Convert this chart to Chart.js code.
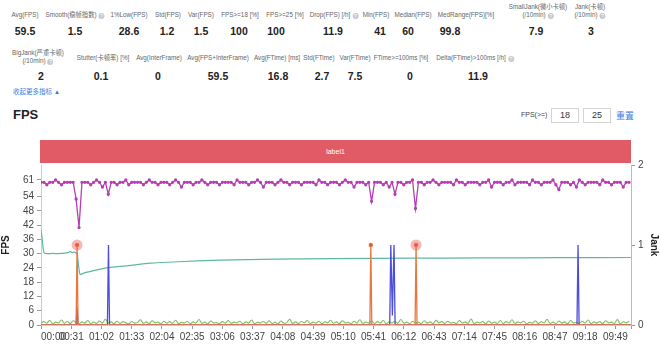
<!DOCTYPE html>
<html>
<head>
<meta charset="utf-8">
<script src="https://cdn.jsdelivr.net/npm/chart.js@4.4.0/dist/chart.umd.min.js"></script>
<style>
  body { margin: 0; width: 660px; height: 344px; overflow: hidden; background: #fff;
         font-family: "Liberation Sans", "Noto Sans CJK SC", sans-serif; position: relative; }
  .c { position: absolute; transform: translateX(-50%); text-align: center; white-space: nowrap; }
  .lab { font-size: 6.3px; line-height: 8px; color: #666; }
  .val { font-size: 10.5px; font-weight: bold; color: #222; line-height: 12px; }
  .q { display: inline-block; width: 6px; height: 6px; border-radius: 50%; background: #c4c8cf;
       color: #fff; font-size: 5px; line-height: 6px; text-align: center; vertical-align: -1px; margin-left: 2px; }
  .box { position: absolute; top: 108px; width: 26px; height: 13px; border: 1px solid #d4d4d4;
         font-size: 9px; line-height: 13px; text-align: center; color: #333; }
  #wrap { position: absolute; left: 0; top: 150px; width: 660px; height: 194px; }
</style>
</head>
<body>
<!-- row 1 -->
<div class="c lab" style="left:25px;top:11px">Avg(FPS)</div>
<div class="c lab" style="left:75px;top:11px">Smooth(稳帧指数)<span class="q">?</span></div>
<div class="c lab" style="left:129px;top:11px">1%Low(FPS)</div>
<div class="c lab" style="left:168px;top:11px">Std(FPS)</div>
<div class="c lab" style="left:201px;top:11px">Var(FPS)</div>
<div class="c lab" style="left:240px;top:11px">FPS&gt;=18 [%]</div>
<div class="c lab" style="left:285px;top:11px">FPS&gt;=25 [%]</div>
<div class="c lab" style="left:334px;top:11px">Drop(FPS) [/h]<span class="q">?</span></div>
<div class="c lab" style="left:376px;top:11px">Min(FPS)</div>
<div class="c lab" style="left:413px;top:11px">Median(FPS)</div>
<div class="c lab" style="left:466px;top:11px">MedRange(FPS)[%]</div>
<div class="c lab" style="left:538px;top:3px">SmallJank(微小卡顿)<br>(/10min)<span class="q">?</span></div>
<div class="c lab" style="left:590px;top:3px">Jank(卡顿)<br>(/10min)<span class="q">?</span></div>

<div class="c val" style="left:25px;top:25px">59.5</div>
<div class="c val" style="left:75px;top:25px">1.5</div>
<div class="c val" style="left:129px;top:25px">28.6</div>
<div class="c val" style="left:167px;top:25px">1.2</div>
<div class="c val" style="left:201px;top:25px">1.5</div>
<div class="c val" style="left:239px;top:25px">100</div>
<div class="c val" style="left:276px;top:25px">100</div>
<div class="c val" style="left:333px;top:25px">11.9</div>
<div class="c val" style="left:380px;top:25px">41</div>
<div class="c val" style="left:408px;top:25px">60</div>
<div class="c val" style="left:450px;top:25px">99.8</div>
<div class="c val" style="left:536px;top:25px">7.9</div>
<div class="c val" style="left:591px;top:25px">3</div>

<!-- row 2 -->
<div class="c lab" style="left:38px;top:49px">BigJank(严重卡顿)<br>(/10min)<span class="q">?</span></div>
<div class="c lab" style="left:103px;top:54px">Stutter(卡顿率) [%]</div>
<div class="c lab" style="left:159px;top:54px">Avg(InterFrame)</div>
<div class="c lab" style="left:218px;top:54px">Avg(FPS+InterFrame)</div>
<div class="c lab" style="left:277px;top:54px">Avg(FTime) [ms]</div>
<div class="c lab" style="left:319px;top:54px">Std(FTime)</div>
<div class="c lab" style="left:355px;top:54px">Var(FTime)</div>
<div class="c lab" style="left:401px;top:54px">FTime&gt;=100ms [%]</div>
<div class="c lab" style="left:475px;top:54px">Delta(FTime)&gt;100ms [/h]<span class="q">?</span></div>

<div class="c val" style="left:41px;top:70px">2</div>
<div class="c val" style="left:101px;top:70px">0.1</div>
<div class="c val" style="left:158px;top:70px">0</div>
<div class="c val" style="left:218px;top:70px">59.5</div>
<div class="c val" style="left:278px;top:70px">16.8</div>
<div class="c val" style="left:322px;top:70px">2.7</div>
<div class="c val" style="left:355px;top:70px">7.5</div>
<div class="c val" style="left:410px;top:70px">0</div>
<div class="c val" style="left:478px;top:70px">11.9</div>

<div style="position:absolute;left:13px;top:86px;font-size:6.5px;color:#3b7ddd">收起更多指标 ▲</div>

<!-- FPS header -->
<div style="position:absolute;left:13px;top:107px;font-size:13px;font-weight:bold;color:#222">FPS</div>
<div style="position:absolute;left:521px;top:111px;font-size:7px;color:#444">FPS(&gt;=)</div>
<div class="box" style="left:551px">18</div>
<div class="box" style="left:583px">25</div>
<div style="position:absolute;left:616px;top:109px;font-size:9px;color:#3b7ddd">重置</div>

<div style="position:absolute;left:40px;top:140px;width:591px;height:23px;background:#e05b66;color:#fff;font-size:7px;line-height:23px;text-align:center">label1</div>

<div id="wrap"><canvas id="chart"></canvas></div>

<script>
// time axis (seconds)
const totalSec = 605;
const sampleSec = 3;
const xTickSeconds = [0, 31, 62, 93, 124, 155, 186, 217, 248, 279, 310, 341, 372, 403, 434, 465, 496, 527, 558, 589, 605];
const xTickLabels = ['00:00', '00:31', '01:02', '01:33', '02:04', '02:35', '03:06', '03:37', '04:08', '04:39',
  '05:10', '05:41', '06:12', '06:43', '07:14', '07:45', '08:16', '08:47', '09:18', '09:49', ''];
const fpsTicks = [0, 6, 12, 18, 24, 30, 36, 42, 48, 54, 61];

// FPS, one value every 3 s
const fpsValues = [
  60, 60, 59, 60, 60, 61, 60, 59, 60, 60,
  60, 60, 53, 41, 60, 60, 60, 59, 60, 61,
  60, 58, 60, 55, 60, 60, 59, 60, 60, 61,
  59, 60, 60, 60, 60, 59, 60, 61, 60, 60,
  59, 60, 60, 60, 59, 60, 61, 60, 58, 60,
  60, 60, 59, 60, 60, 61, 60, 59, 60, 60,
  60, 59, 60, 60, 60, 60, 59, 61, 60, 60,
  60, 59, 60, 60, 61, 60, 58, 60, 60, 60,
  59, 60, 61, 60, 60, 59, 60, 60, 60, 59,
  60, 60, 60, 60, 59, 61, 60, 60, 59, 60,
  60, 60, 59, 60, 61, 60, 60, 58, 60, 60,
  60, 59, 60, 52, 60, 60, 60, 59, 60, 58,
  60, 55, 60, 60, 59, 60, 60, 61, 49, 60,
  60, 59, 60, 60, 61, 60, 59, 60, 60, 60,
  60, 59, 61, 60, 60, 59, 60, 60, 60, 60,
  59, 60, 60, 61, 58, 60, 60, 60, 59, 60,
  60, 61, 59, 60, 60, 60, 60, 59, 61, 60,
  60, 59, 60, 60, 60, 61, 59, 57, 60, 60,
  60, 59, 60, 58, 61, 60, 59, 60, 60, 60,
  60, 59, 61, 60, 60, 59, 60, 60, 60, 58,
  60, 60
];

// green low series, one value every 3 s
const interValues = [
  0.6, 1.4, 0.8, 1.9, 0.5, 1.2, 0.9, 2.1, 0.7, 1.5,
  0.6, 1.8, 1.0, 0.5, 1.3, 0.8, 1.9, 0.6, 1.2, 0.7,
  1.7, 0.8, 2.4, 0.9, 1.3, 0.6, 1.6, 0.7, 1.4, 0.9,
  0.5, 1.5, 0.8, 1.1, 2.2, 0.7, 1.3, 0.6, 1.8, 0.9,
  1.2, 0.5, 1.6, 0.8, 1.4, 0.7, 2.0, 0.6, 1.1, 0.9,
  1.5, 0.6, 1.3, 0.8, 2.3, 0.7, 1.2, 0.5, 1.7, 0.9,
  1.0, 0.6, 1.4, 0.8, 1.9, 0.7, 1.2, 0.9, 1.6, 0.5,
  1.3, 0.8, 2.1, 0.6, 1.1, 0.9, 1.5, 0.7, 1.8, 0.6,
  1.2, 0.5, 1.7, 0.8, 1.0, 2.4, 0.7, 1.3, 0.6, 1.5,
  0.9, 1.9, 0.6, 1.2, 0.8, 1.6, 0.5, 1.4, 0.9, 2.0,
  0.7, 1.3, 0.6, 1.8, 0.9, 1.1, 0.5, 1.6, 0.8, 2.2,
  0.7, 1.2, 0.9, 1.7, 0.6, 1.4, 0.8, 1.9, 0.5, 1.3,
  0.9, 1.6, 0.7, 2.3, 0.8, 1.2, 0.6, 1.5, 0.9, 1.1,
  0.6, 1.8, 0.8, 1.3, 0.5, 2.0, 0.9, 1.4, 0.7, 1.6,
  0.8, 1.1, 0.6, 1.9, 0.9, 1.3, 0.7, 2.5, 0.6, 1.2,
  0.9, 1.5, 0.5, 1.7, 0.8, 1.2, 0.7, 1.9, 0.6, 1.4,
  0.8, 2.2, 0.7, 1.3, 0.9, 1.6, 0.5, 1.1, 0.8, 1.8,
  0.6, 1.4, 0.9, 2.4, 0.7, 1.2, 0.6, 1.7, 0.8, 1.3,
  0.5, 1.9, 0.8, 1.1, 0.7, 1.6, 0.9, 2.1, 0.6, 1.3,
  0.8, 1.5, 0.6, 1.8, 0.9, 1.2, 0.7, 2.3, 0.5, 1.4,
  0.9, 1.6
];

// teal line
const tealTimes = [0, 1, 2, 3, 6, 12, 18, 24, 28, 30, 32, 34, 36, 37, 40, 45, 55, 69, 90, 112, 140, 183, 240, 300, 380, 450, 530, 605];
const tealValues = [40, 37, 33, 30.5, 30, 30.1, 30, 30.2, 30.5, 31, 30.4, 30.8, 30.3, 30.5, 21.3, 22, 23, 24.1, 25, 26, 26.6, 27.3, 27.7, 27.9, 28.1, 28.2, 28.3, 28.4];

// jank series (right axis)
const bigJankTimes = [0, 36, 37, 38, 337.2, 338.2, 339.2, 383.6, 384.6, 385.6, 605];
const bigJankValues = [0, 0, 1, 0, 0, 1, 0, 0, 1, 0, 0];
const jankTimes = [0, 36, 37, 38, 68.1, 69.2, 70.3, 357.6, 358.7, 360.3, 362, 363.1, 549.6, 550.7, 551.8, 605];
const jankValues = [0, 0, 0.22, 0, 0, 1, 0, 0, 1, 0.12, 1, 0, 0, 1, 0, 0];
const bigJankMarkTimes = [37, 384.6];
const bigJankMarkValues = [1, 1];

const pts = (xs, ys) => xs.map((x, i) => ({ x: x, y: ys[i] }));
const sampled = (ys) => ys.map((y, i) => ({ x: i * sampleSec, y: y }));

new Chart(document.getElementById('chart'), {
  type: 'line',
  data: {
    datasets: [
      {
        label: 'FPS', data: sampled(fpsValues), yAxisID: 'y',
        borderColor: '#b73db5', backgroundColor: '#b73db5', borderWidth: 1.3,
        pointRadius: 1, pointHoverRadius: 0, tension: 0, order: 1
      },
      {
        label: 'BigJankMark', data: pts(bigJankMarkTimes, bigJankMarkValues), yAxisID: 'y1',
        showLine: false, pointRadius: 5.5, backgroundColor: 'rgba(238,96,96,0.45)',
        borderColor: '#d83a3a', borderWidth: 0, order: 2
      },
      {
        label: 'BigJank', data: pts(bigJankTimes, bigJankValues), yAxisID: 'y1',
        borderColor: '#e8773f', backgroundColor: '#d9452f', borderWidth: 1.3, tension: 0,
        pointRadius: (ctx) => (ctx.raw && ctx.raw.y > 0 ? 1.6 : 0), order: 3
      },
      {
        label: 'Jank', data: pts(jankTimes, jankValues), yAxisID: 'y1',
        borderColor: '#4d4ddb', backgroundColor: '#4d4ddb', borderWidth: 1.3,
        pointRadius: 0, tension: 0, order: 4
      },
      {
        label: 'Teal', data: pts(tealTimes, tealValues), yAxisID: 'y',
        borderColor: '#5cb8a2', borderWidth: 1.2, pointRadius: 0, tension: 0.2, order: 5
      },
      {
        label: 'InterFrame', data: sampled(interValues), yAxisID: 'y',
        borderColor: '#7cc35f', borderWidth: 1.1, pointRadius: 0, tension: 0.4, order: 6
      }
    ]
  },
  options: {
    responsive: true,
    maintainAspectRatio: false,
    animation: false,
    events: [],
    layout: { padding: { top: 15, left: 0, right: 0, bottom: 0 } },
    plugins: { legend: { display: false }, tooltip: { enabled: false } },
    scales: {
      x: {
        type: 'linear', min: 0, max: totalSec,
        afterBuildTicks: (s) => { s.ticks = xTickSeconds.map((v) => ({ value: v })); },
        afterFit: (s) => { s.height = 19; },
        ticks: {
          autoSkip: false, maxRotation: 0, align: 'inner', padding: 2,
          font: { size: 10, family: 'Liberation Sans' }, color: '#444',
          callback: (v, i) => xTickLabels[i]
        },
        grid: { drawOnChartArea: false, drawTicks: true, tickLength: 4, color: '#999' },
        border: { display: true, color: '#ccc' }
      },
      y: {
        position: 'left', min: 0, max: 67.3,
        afterBuildTicks: (s) => { s.ticks = fpsTicks.map((v) => ({ value: v })); },
        afterFit: (s) => { s.width = 41; },
        title: { display: true, text: 'FPS', font: { size: 10, weight: 'bold', family: 'Liberation Sans' }, color: '#222', padding: 0 },
        ticks: { font: { size: 10, family: 'Liberation Sans' }, color: '#444', padding: 3 },
        grid: { drawOnChartArea: false, drawTicks: true, tickLength: 4, color: '#999' },
        border: { display: true, color: '#ccc' }
      },
      y1: {
        position: 'right', min: 0, max: 2,
        afterFit: (s) => { s.width = 29; },
        title: { display: true, text: 'Jank', font: { size: 10, weight: 'bold', family: 'Liberation Sans' }, color: '#222', padding: 0 },
        ticks: { stepSize: 1, font: { size: 10, family: 'Liberation Sans' }, color: '#444', padding: 3 },
        grid: { drawOnChartArea: false, drawTicks: true, tickLength: 4, color: '#999' },
        border: { display: true, color: '#bbb' }
      }
    }
  }
});
</script>
</body>
</html>
